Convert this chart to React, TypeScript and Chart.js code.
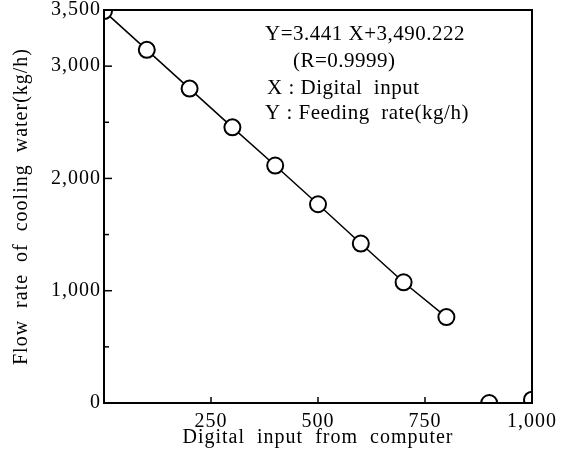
import { useEffect, useRef } from 'react';
import { Chart, registerables } from 'chart.js';

Chart.register(...registerables);

// ---- Data ----
const digitalInput = [0, 100, 200, 300, 400, 500, 600, 700, 800];
const flowRate = [3490, 3145, 2800, 2455, 2115, 1770, 1420, 1075, 765];
const extraInput = [900, 1000];
const extraFlow = [0, 30];

const xTickValues = [250, 500, 750, 1000];
const xTickMarks = [250, 500, 750];
const yTickValues = [0, 500, 1000, 1500, 2000, 2500, 3000, 3500];
const yLabeledTicks = [0, 1000, 2000, 3000, 3500];
const yMajorMarks = [1000, 2000, 3000];
const yMinorMarks = [500, 1500, 2500];

const xTitle = 'Digital  input  from  computer';
const yTitle = 'Flow  rate  of  cooling  water(kg/h)';
const annotationLines = [
  'Y=3.441 X+3,490.222',
  '(R=0.9999)',
  'X : Digital  input',
  'Y : Feeding  rate(kg/h)',
];

const FONT = "'Liberation Serif', 'Times New Roman', serif";
const LS = '1px';

const fmt = (v: number) => Number(v).toLocaleString('en-US');

const framePlugin = {
  id: 'frameAndNotes',
  afterInit(chart: any) {
    chart.ctx.letterSpacing = LS;
  },
  beforeUpdate(chart: any) {
    chart.ctx.letterSpacing = LS;
  },
  beforeDraw(chart: any) {
    chart.ctx.letterSpacing = LS;
  },
  afterDraw(chart: any) {
    const { ctx, chartArea: a, scales } = chart;
    ctx.save();
    ctx.strokeStyle = '#000';
    ctx.lineWidth = 2;
    ctx.strokeRect(a.left, a.top, a.right - a.left, a.bottom - a.top);

    ctx.lineWidth = 1.5;
    const seg = (x1: number, y1: number, x2: number, y2: number) => {
      ctx.beginPath();
      ctx.moveTo(x1, y1);
      ctx.lineTo(x2, y2);
      ctx.stroke();
    };
    for (const v of yMajorMarks) {
      const y = scales.y.getPixelForValue(v);
      seg(a.left, y, a.left + 8, y);
    }
    for (const v of yMinorMarks) {
      const y = scales.y.getPixelForValue(v);
      seg(a.left, y, a.left + 5, y);
    }
    for (const v of xTickMarks) {
      const x = scales.x.getPixelForValue(v);
      seg(x, a.bottom, x, a.bottom - 6);
    }

    // annotation text
    ctx.letterSpacing = '0.5px';
    ctx.font = `21px ${FONT}`;
    ctx.fillStyle = '#000';
    ctx.textAlign = 'left';
    ctx.textBaseline = 'alphabetic';
    const offsets = [
      [161, 30],
      [189, 57],
      [163, 84],
      [161, 109],
    ];
    annotationLines.forEach((t, i) => {
      ctx.fillText(t, a.left + offsets[i][0], a.top + offsets[i][1]);
    });
    ctx.restore();
  },
};

export default function App() {
  const canvasRef = useRef<HTMLCanvasElement | null>(null);

  useEffect(() => {
    const canvas = canvasRef.current;
    if (!canvas) return;
    Chart.defaults.color = '#000';
    Chart.defaults.font.family = FONT;

    const chart = new Chart(canvas, {
      type: 'scatter',
      data: {
        datasets: [
          {
            label: 'measured',
            data: digitalInput.map((x, i) => ({ x, y: flowRate[i] })),
            showLine: true,
            borderColor: '#000',
            borderWidth: 1.5,
            pointRadius: 8,
            pointBorderWidth: 2,
            pointBackgroundColor: '#fff',
            pointBorderColor: '#000',
            clip: 0,
          } as any,
          {
            label: 'extra',
            data: extraInput.map((x, i) => ({ x, y: extraFlow[i] })),
            showLine: false,
            pointRadius: 8,
            pointBorderWidth: 2,
            pointBackgroundColor: '#fff',
            pointBorderColor: '#000',
            clip: 0,
          } as any,
        ],
      },
      options: {
        responsive: false,
        animation: false,
        layout: { padding: { top: 8, right: 31, left: 0, bottom: 0 } },
        plugins: {
          legend: { display: false },
          tooltip: { enabled: false },
        },
        scales: {
          x: {
            type: 'linear',
            min: 0,
            max: 1000,
            grid: { display: false, drawTicks: false },
            border: { display: false },
            afterBuildTicks: (s: any) => {
              s.ticks = xTickValues.map((v) => ({ value: v }));
            },
            afterFit: (s: any) => {
              s.height = 55;
              s.paddingLeft = 0;
              s.paddingRight = 0;
              s.paddingTop = 0;
              s.paddingBottom = 0;
            },
            ticks: {
              autoSkip: false,
              maxRotation: 0,
              padding: 7,
              font: { size: 20 },
              callback: (v: any) => fmt(v),
            },
            title: {
              display: true,
              text: xTitle,
              font: { size: 20 },
              padding: { top: 0, bottom: 8 },
            },
          },
          y: {
            type: 'linear',
            min: 0,
            max: 3500,
            grid: { display: false, drawTicks: false },
            border: { display: false },
            afterBuildTicks: (s: any) => {
              s.ticks = yTickValues.map((v) => ({ value: v }));
            },
            afterFit: (s: any) => {
              s.width = 104;
              s.paddingLeft = 0;
              s.paddingRight = 0;
              s.paddingTop = 0;
              s.paddingBottom = 0;
            },
            ticks: {
              autoSkip: false,
              padding: 3,
              font: { size: 20 },
              callback: (v: any) => (yLabeledTicks.includes(Number(v)) ? fmt(v) : ''),
            },
            title: {
              display: true,
              text: yTitle,
              font: { size: 20 },
              padding: { top: 10, bottom: 0 },
            },
          },
        },
      },
      plugins: [framePlugin],
    } as any);

    return () => chart.destroy();
  }, []);

  return (
    <div style={{ position: 'fixed', left: 0, top: 0, width: 563, height: 458, background: '#fff' }}>
      <canvas ref={canvasRef} width={563} height={458} style={{ width: 563, height: 458 }} />
    </div>
  );
}
